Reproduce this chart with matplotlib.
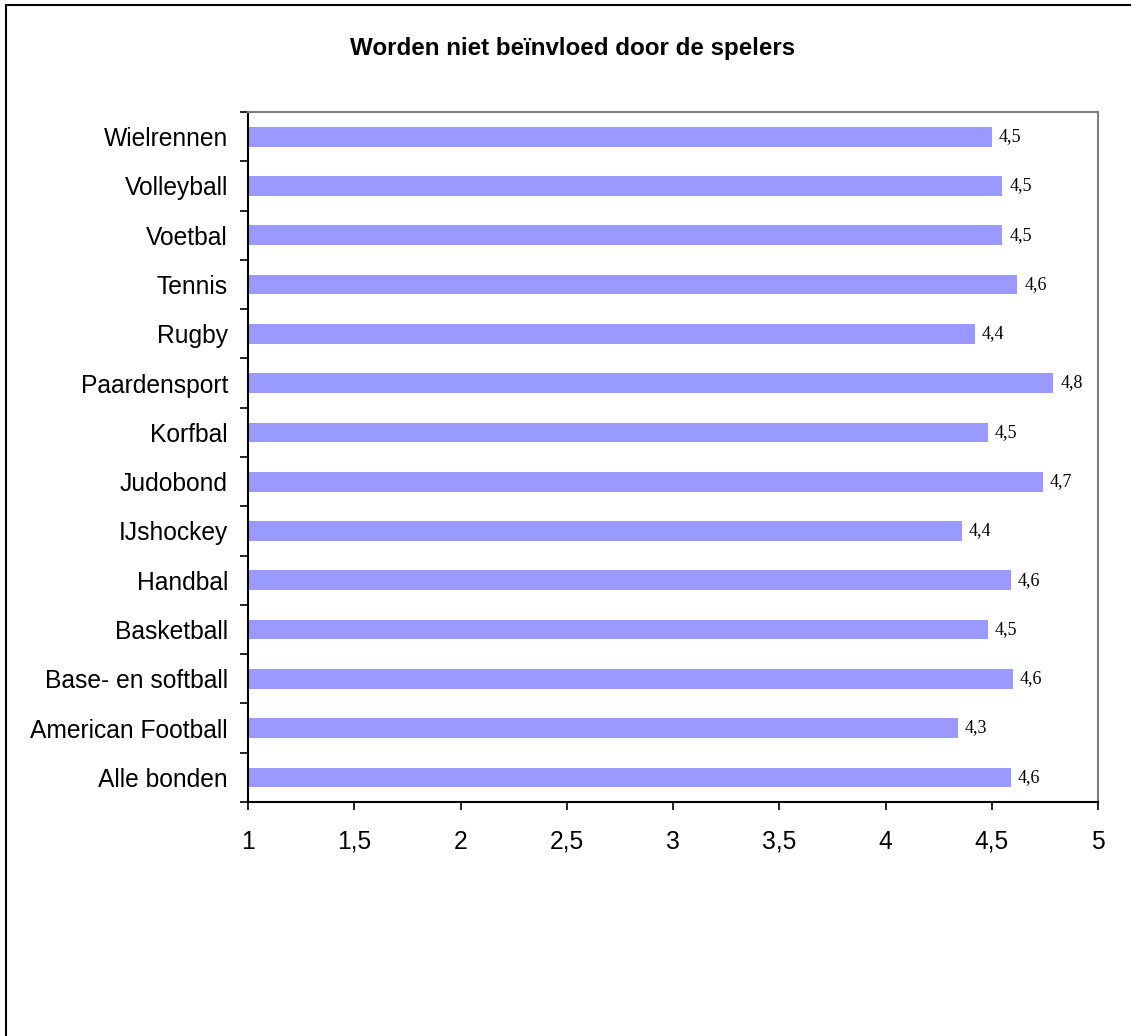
import matplotlib
matplotlib.use('Agg')
import matplotlib.pyplot as plt
from matplotlib.lines import Line2D

# Data (bottom to top)
categories = ['Alle bonden', 'American Football', 'Base- en softball', 'Basketball',
              'Handbal', 'IJshockey', 'Judobond', 'Korfbal', 'Paardensport',
              'Rugby', 'Tennis', 'Voetbal', 'Volleyball', 'Wielrennen']
values = [4.59, 4.34, 4.60, 4.48, 4.59, 4.36, 4.74, 4.48, 4.79,
          4.42, 4.62, 4.55, 4.55, 4.50]
xticks = [1, 1.5, 2, 2.5, 3, 3.5, 4, 4.5, 5]
xticklabels = ['1', '1,5', '2', '2,5', '3', '3,5', '4', '4,5', '5']
title = 'Worden niet beïnvloed door de spelers'

plt.rcParams['font.family'] = ['Liberation Sans', 'DejaVu Sans']

fig = plt.figure(figsize = (11.31, 10.36), dpi = 100)
ax = fig.add_axes([248/1131, 1 - 802/1036, 850/1131, 690/1036])

# bars start at the axis minimum (1)
pos = list(range(len(categories)))
ax.barh(pos, [v - 1 for v in values], left = 1, height = 0.4, color = '#9999FF', zorder = 2)

for p, v in zip(pos, values):
    ax.text(v + 0.033, p, ('%.1f' % v).replace('.', ','), va = 'center', ha = 'left',
            fontsize = 13, family = 'Liberation Serif')

ax.set_xlim(1, 5)
ax.set_ylim(-0.5, len(categories) - 0.5)
ax.set_xticks(xticks)
ax.set_xticklabels(xticklabels, fontsize = 17.7)
ax.set_yticks(pos)
ax.set_yticklabels(categories, fontsize = 17.7)
ax.tick_params(axis = 'y', length = 0, pad = 14.4)
ax.set_yticks([p - 0.5 for p in pos] + [len(categories) - 0.5], minor = True)
ax.tick_params(axis = 'y', which = 'minor', length = 6, width = 1.2, direction = 'out')
ax.tick_params(axis = 'x', length = 6, width = 1.2, direction = 'out', pad = 14)

for s in ['left', 'bottom']:
    ax.spines[s].set_color('black')
    ax.spines[s].set_linewidth(1.5)
for s in ['top', 'right']:
    ax.spines[s].set_color('#808080')
    ax.spines[s].set_linewidth(1.5)

fig.text(573/1131, 1 - 48/1036, title, ha = 'center', va = 'center', fontsize = 17.4, fontweight = 'bold')

# outer chart border (top and left visible)
fig.add_artist(Line2D([6/1131, 1], [1 - 5/1036, 1 - 5/1036], color = 'black', lw = 1.5, transform = fig.transFigure))
fig.add_artist(Line2D([6/1131, 6/1131], [0, 1 - 5/1036], color = 'black', lw = 1.5, transform = fig.transFigure))

plt.savefig('out.png', dpi = 100)
